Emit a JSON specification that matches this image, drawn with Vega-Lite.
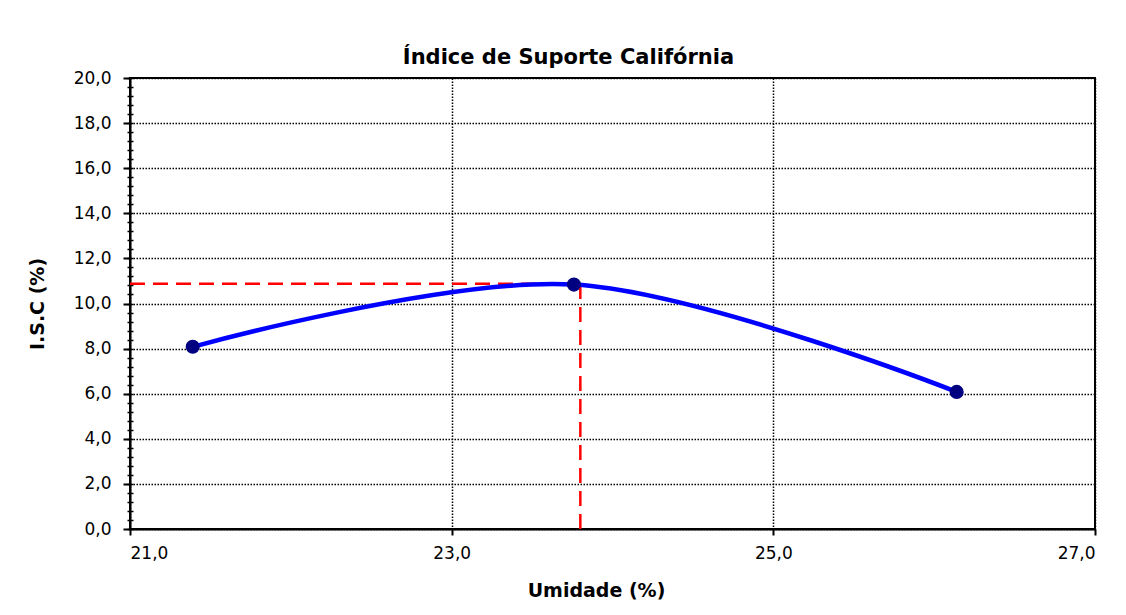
{
  "$schema": "https://vega.github.io/schema/vega-lite/v6.json",
  "width": 965,
  "height": 451,
  "autosize": {"type": "none"},
  "padding": {"left": 130, "top": 78, "right": 31, "bottom": 86},
  "background": "#ffffff",
  "datasets": {
    "pts": [
      {"umidade": 21.39, "isc": 8.08},
      {"umidade": 23.76, "isc": 10.84},
      {"umidade": 26.14, "isc": 6.08}
    ],
    "ref": [
      {"seg": "h", "umidade": 21.0, "isc": 10.88},
      {"seg": "h", "umidade": 23.8, "isc": 10.88},
      {"seg": "v", "umidade": 23.8, "isc": 0.0},
      {"seg": "v", "umidade": 23.8, "isc": 10.88}
    ]
  },
  "title": {
    "text": "Índice de Suporte Califórnia",
    "font": "DejaVu Sans",
    "fontSize": 21,
    "fontWeight": "bold",
    "color": "#000000",
    "anchor": "middle",
    "frame": "group",
    "dx": -44,
    "offset": 1
  },
  "config": {
    "view": {"stroke": "#000000", "strokeWidth": 2},
    "axis": {
      "labelFont": "DejaVu Sans",
      "labelFontSize": 17,
      "labelColor": "#000000",
      "titleFont": "DejaVu Sans",
      "titleFontSize": 19,
      "titleFontWeight": "bold",
      "titleColor": "#000000",
      "domainColor": "#000000",
      "domainWidth": 2,
      "tickColor": "#000000",
      "tickWidth": 2,
      "gridColor": "#000000",
      "gridDash": [1.5, 1.5],
      "gridWidth": 1.5,
      "gridOpacity": 1
    }
  },
  "resolve": {"axis": {"y": "independent"}},
  "layer": [
    {
      "data": {"name": "ref"},
      "mark": {"type": "line", "color": "#ff0000", "strokeWidth": 2.5, "strokeDash": [15, 8]},
      "encoding": {
        "x": {
          "field": "umidade",
          "type": "quantitative",
          "scale": {"domain": [21, 27], "nice": false, "zero": false},
          "axis": {
            "title": "Umidade (%)",
            "values": [21, 23, 25, 27],
            "format": ".1f",
            "formatType": "number",
            "labelExpr": "replace(datum.label, '.', ',')",
            "tickSize": 6,
            "labelPadding": 10,
            "titlePadding": 20,
            "titleX": 466
          }
        },
        "y": {
          "field": "isc",
          "type": "quantitative",
          "scale": {"domain": [0, 20], "nice": false},
          "axis": {
            "orient": "left",
            "title": null,
            "labels": false,
            "grid": false,
            "domain": false,
            "tickSize": -3,
            "tickWidth": 1.5,
            "values": [0,0.4,0.8,1.2,1.6,2,2.4,2.8,3.2,3.6,4,4.4,4.8,5.2,5.6,6,6.4,6.8,7.2,7.6,8,8.4,8.8,9.2,9.6,10,10.4,10.8,11.2,11.6,12,12.4,12.8,13.2,13.6,14,14.4,14.8,15.2,15.6,16,16.4,16.8,17.2,17.6,18,18.4,18.8,19.2,19.6,20]
          }
        },
        "detail": {"field": "seg"}
      }
    },
    {
      "data": {"name": "pts"},
      "mark": {"type": "line", "color": "#0000ff", "strokeWidth": 4.5, "interpolate": "cardinal"},
      "encoding": {
        "x": {"field": "umidade", "type": "quantitative"},
        "y": {
          "field": "isc",
          "type": "quantitative",
          "axis": {
            "orient": "left",
            "title": "I.S.C (%)",
            "values": [0, 2, 4, 6, 8, 10, 12, 14, 16, 18, 20],
            "format": ".1f",
            "labelExpr": "replace(datum.label, '.', ',')",
            "tickSize": 7,
            "labelPadding": 12,
            "titlePadding": 26,
            "grid": true
          }
        }
      }
    },
    {
      "data": {"name": "pts"},
      "mark": {"type": "point", "filled": true, "color": "#000080", "opacity": 1, "size": 200, "shape": "circle"},
      "encoding": {
        "x": {"field": "umidade", "type": "quantitative"},
        "y": {
          "field": "isc",
          "type": "quantitative",
          "axis": {
            "orient": "left",
            "title": null,
            "labels": false,
            "grid": false,
            "domain": false,
            "tickSize": 3,
            "tickWidth": 1.5,
            "values": [0,0.4,0.8,1.2,1.6,2,2.4,2.8,3.2,3.6,4,4.4,4.8,5.2,5.6,6,6.4,6.8,7.2,7.6,8,8.4,8.8,9.2,9.6,10,10.4,10.8,11.2,11.6,12,12.4,12.8,13.2,13.6,14,14.4,14.8,15.2,15.6,16,16.4,16.8,17.2,17.6,18,18.4,18.8,19.2,19.6,20]
          }
        }
      }
    }
  ]
}
